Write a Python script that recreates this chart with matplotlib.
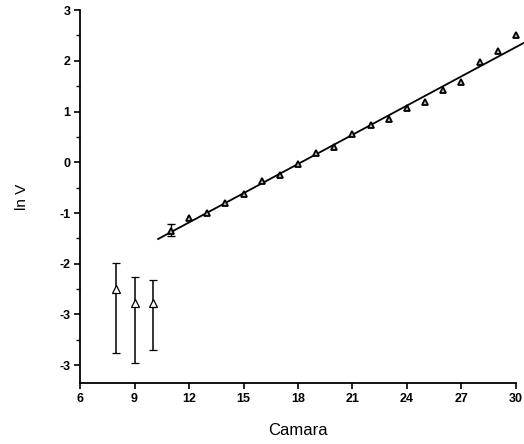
import numpy as np
import matplotlib.pyplot as plt
from matplotlib.ticker import MultipleLocator

# points with large error bars (left group)
x_err = [8, 9, 10]
y_err = [-2.50, -2.78, -2.78]
err_lo = [1.25, 1.18, 0.91]
err_hi = [0.52, 0.51, 0.45]

# points along the fitted line
x_pts = list(range(11, 31))
y_pts = [-1.35, -1.10, -1.00, -0.80, -0.63, -0.37, -0.26, -0.04, 0.18, 0.31,
         0.55, 0.73, 0.86, 1.06, 1.18, 1.43, 1.59, 1.98, 2.20, 2.50]

# fitted line
fit_x = [10.3, 30.4]
fit_slope = 0.192
fit_icpt = -3.49

ytick_vals = [3, 2, 1, 0, -1, -2, -3, -4]
ytick_labels = ['3', '2', '1', '0', '-1', '-2', '-3', '-3']
xtick_vals = [6, 9, 12, 15, 18, 21, 24, 27, 30]

plt.rcParams['font.family'] = ['Liberation Sans', 'DejaVu Sans']

fig = plt.figure(figsize=(5.24, 4.44), dpi=100)
ax = fig.add_axes([0.1527, 0.1374, 0.832, 0.840])

fx = np.array(fit_x)
ax.plot(fx, fit_slope * fx + fit_icpt, color='black', lw=1.3, zorder=2,
        clip_on=False)

ax.errorbar(x_err, y_err, yerr=[err_lo, err_hi], fmt='^', color='black',
            mfc='white', mec='black', ms=6, mew=0.9, capsize=3, elinewidth=1.1,
            capthick=1.1, zorder=3)
ax.errorbar([11], [-1.35], yerr=[[0.1], [0.13]], fmt='none', color='black',
            capsize=3, elinewidth=1, zorder=3)
ax.plot(x_pts, y_pts, '^', color='black', mfc='#bbbbbb', mec='black', ms=5,
        mew=1.3, zorder=4, clip_on=False)

ax.set_xlim(6, 30)
ax.set_ylim(-4.35, 3.0)
ax.set_xticks(xtick_vals)
ax.set_yticks(ytick_vals)
ax.set_yticklabels(ytick_labels)
ax.yaxis.set_minor_locator(MultipleLocator(0.5))

for side in ['top', 'right']:
    ax.spines[side].set_visible(False)
for side in ['left', 'bottom']:
    ax.spines[side].set_linewidth(1.3)

ax.tick_params(axis='both', which='major', length=4, width=1.2, labelsize=9,
               pad=3)
ax.tick_params(axis='y', which='minor', length=3, width=1.0)
for lab in ax.get_xticklabels() + ax.get_yticklabels():
    lab.set_fontweight('bold')

ax.set_xlabel('Camara', fontsize=12, labelpad=13)
ax.set_ylabel('ln V', fontsize=11, labelpad=22)

fig.savefig('out.png', dpi=100)
